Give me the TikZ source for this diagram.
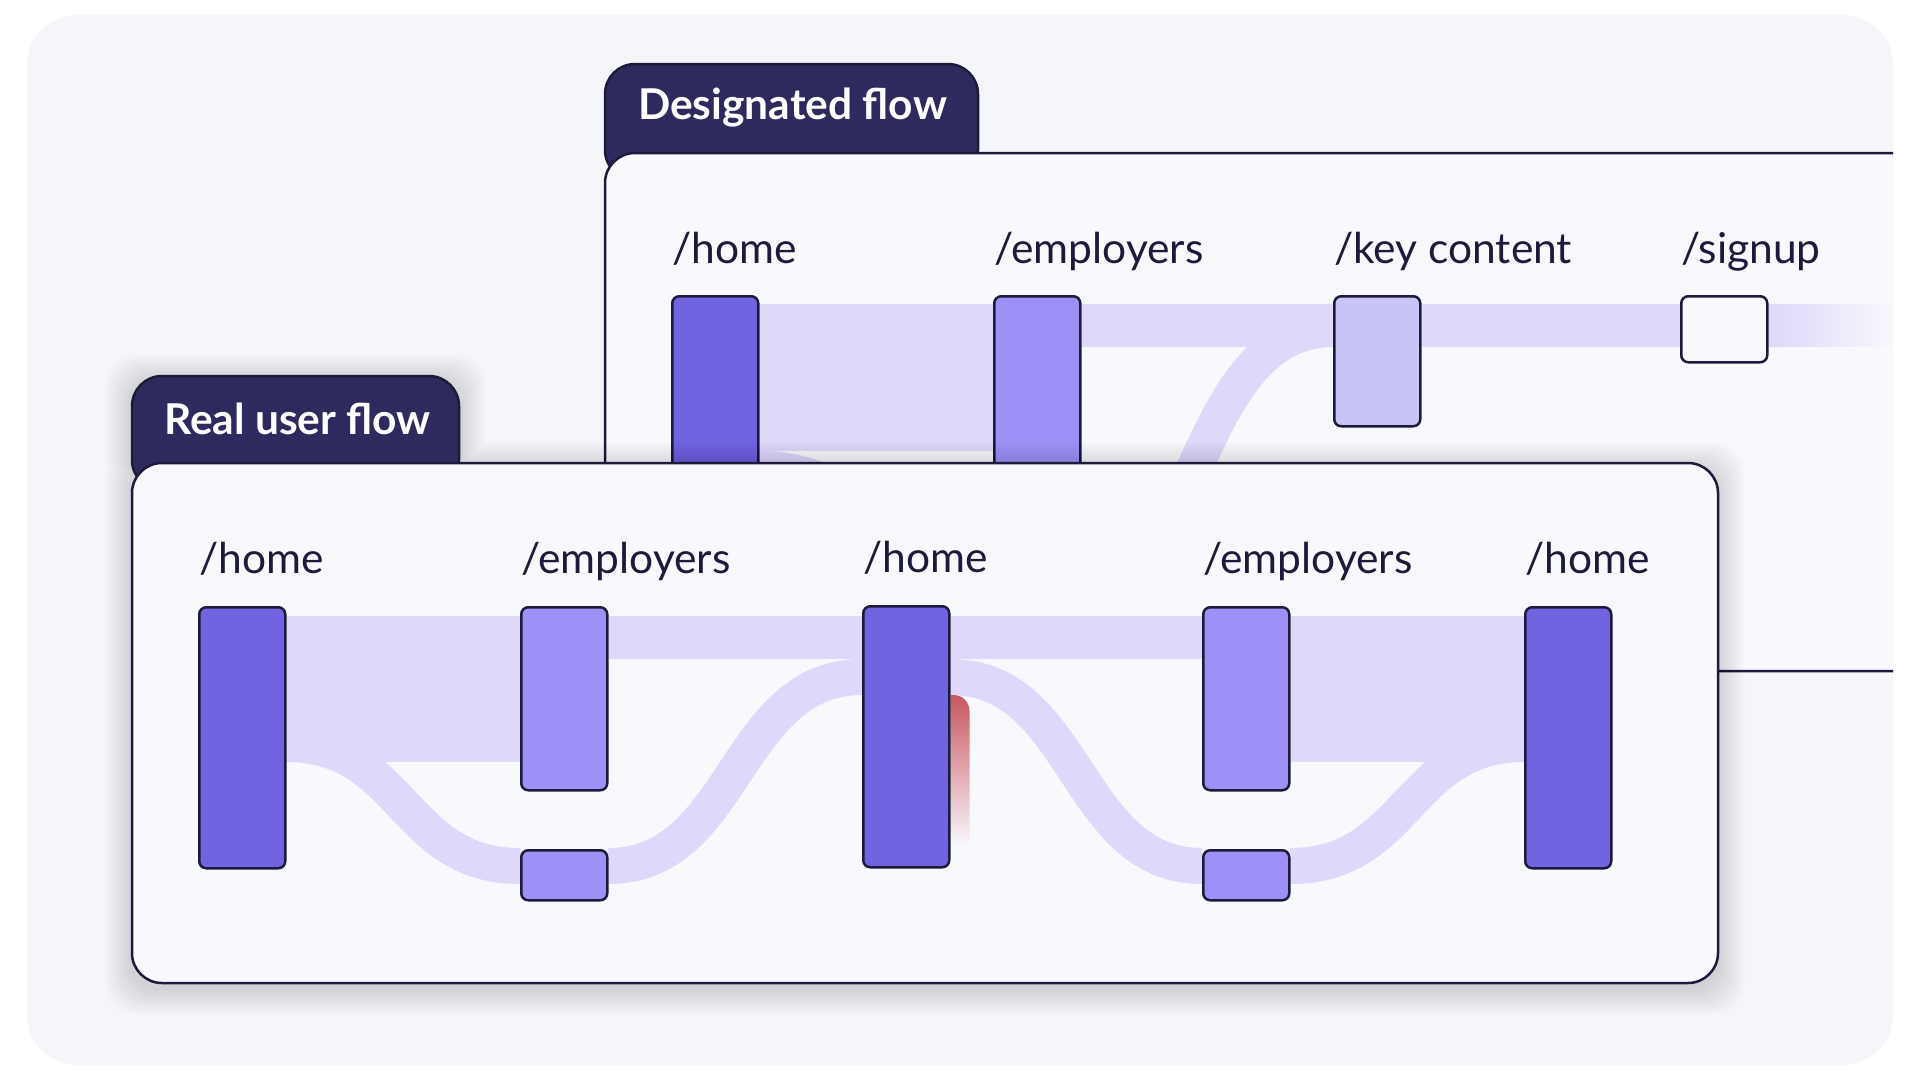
\documentclass[tikz,border=0pt]{standalone}
\usepackage{fontspec}
\setmainfont{Lato}
\usetikzlibrary{calc,fadings}

\definecolor{ink}{HTML}{1D1A3B}
\definecolor{tabc}{HTML}{2E2A5D}
\definecolor{bgc}{HTML}{F5F6FA}
\definecolor{panelc}{HTML}{F8F9FD}
\definecolor{flowc}{HTML}{DFD8FA}
\definecolor{barhi}{HTML}{7164E1}
\definecolor{barmid}{HTML}{9D91F7}
\definecolor{barlow}{HTML}{C8C4F6}
\definecolor{dropred}{HTML}{C9565E}

\pgfdeclarelayer{dback}
\pgfdeclarelayer{dfront}
\pgfdeclarelayer{rback}
\pgfsetlayers{dback,dfront,rback,main}

\tikzfading[name=dropfade, top color=transparent!0, middle color=transparent!30, bottom color=transparent!100]
\tikzfading[name=fadeout, left color=transparent!0, right color=transparent!100]

\tikzset{
  pagebar/.style={draw=ink, line width=2.5pt, rounded corners=7pt, inner sep=0pt, minimum width=86pt, anchor=north west},
  darkbar/.style={pagebar, fill=barhi},
  midbar/.style={pagebar, fill=barmid},
  palebar/.style={pagebar, fill=barlow},
  emptybar/.style={pagebar, fill=panelc},
  flowband/.style={draw=flowc, line width=#1},
  pagelabel/.style={anchor=base west, text=ink, inner sep=0pt, font=\fontsize{42.5}{50}\selectfont},
  tabtitle/.style={anchor=west, text=white, inner sep=0pt, font=\fontsize{42.5}{50}\selectfont\bfseries},
  panel/.style={fill=panelc, draw=ink, line width=2.5pt, rounded corners=30pt},
  tabbox/.style={fill=tabc, draw=ink, line width=2.5pt, rounded corners=30pt},
}

\begin{document}
\begin{tikzpicture}[x=1pt, y=-1pt]
\useasboundingbox (0,0) rectangle (1920,1080);

% designated flow, back panel
\begin{pgfonlayer}{dback}
  \fill[white] (0,0) rectangle (1920,1080);
  \fill[bgc, rounded corners=50pt] (27,15) rectangle (1893,1065);
  \filldraw[tabbox] (605,64) rectangle (978,180);
  \node[tabtitle] (dtitle) at (638,108) {Designated flow};
  \filldraw[panel] (1893,153) -- (605,153) -- (605,671) -- (1893,671);
\end{pgfonlayer}

\begin{pgfonlayer}{dfront}
  \node[darkbar, minimum height=268pt] (dhome) at (671,295) {};
  \node[midbar, minimum height=268pt] (demp) at (993,295) {};
  \node[palebar, minimum height=130pt] (dkey) at (1333,295) {};
  \node[emptybar, minimum height=66pt] (dsign) at (1680,295) {};
  \node[pagelabel] (ldhome) at ([xshift=1pt,yshift=32pt]dhome.north west) {/home};
  \node[pagelabel] (ldemp) at ([xshift=1pt,yshift=32pt]demp.north west) {/employers};
  \node[pagelabel] (ldkey) at ([xshift=1pt,yshift=32pt]dkey.north west) {/key content};
  \node[pagelabel] (ldsign) at ([xshift=1pt,yshift=32pt]dsign.north west) {/signup};
\end{pgfonlayer}

\begin{pgfonlayer}{dback}
  \draw[flowband=147pt] (dhome.east |- 0,377.5) -- (demp.west |- 0,377.5);
  \draw[flowband=43pt] (demp.east |- 0,325.5) -- (dkey.west |- 0,325.5);
  \draw[flowband=43pt] (dkey.east |- 0,325.5) -- (dsign.west |- 0,325.5);
  \fill[flowc, path fading=fadeout] (dsign.east |- 0,304) rectangle (1893,347);
  \coordinate (dlow) at (1050,620);
  \draw[flowband=36pt] (dhome.east |- 0,469) .. controls +(140,0) and +(-140,0) .. (dlow);
  \draw[flowband=36pt] (dlow) .. controls +(150,0) and +(-150,0) .. (dkey.west |- 0,329);
\end{pgfonlayer}

% real user flow, front panel
\begin{pgfonlayer}{rback}
  \foreach \i in {1,...,12}{
    \pgfmathsetmacro{\s}{2.2*\i}
    \fill[black, opacity=0.013, rounded corners=30pt]
      ({132-\s},{376-\s+5}) rectangle ({459+\s},{490})
      ({132-\s},{463-\s+5}) rectangle ({1718+\s},{983+\s+5});
  }
  \filldraw[tabbox] (132,376) rectangle (459,490);
  \node[tabtitle] (rtitle) at (164,419) {Real user flow};
  \filldraw[panel] (132,463) rectangle (1718,983);
\end{pgfonlayer}

\node[darkbar, minimum height=261pt] (home1) at (198,606) {};
\node[midbar, minimum height=183pt] (emp1) at (520,606) {};
\node[midbar, minimum height=50pt] (emp1b) at (520,849) {};
\node[darkbar, minimum height=261pt] (home2) at (862,605) {};
\node[midbar, minimum height=183pt] (emp2) at (1202,606) {};
\node[midbar, minimum height=50pt] (emp2b) at (1202,849) {};
\node[darkbar, minimum height=261pt] (home3) at (1524,606) {};

\node[pagelabel] (lhome1) at ([xshift=1pt,yshift=33pt]home1.north west) {/home};
\node[pagelabel] (lemp1) at ([xshift=1pt,yshift=33pt]emp1.north west) {/employers};
\node[pagelabel] (lhome2) at ([xshift=1pt,yshift=33pt]home2.north west) {/home};
\node[pagelabel] (lemp2) at ([xshift=1pt,yshift=33pt]emp2.north west) {/employers};
\node[pagelabel] (lhome3) at ([xshift=1pt,yshift=33pt]home3.north west) {/home};

\begin{pgfonlayer}{rback}
  \draw[flowband=146pt] (home1.east |- 0,689) -- (emp1.west |- 0,689);
  \draw[flowband=43pt] (emp1.east |- 0,637.5) -- (home2.west |- 0,637.5);
  \draw[flowband=43pt] (home2.east |- 0,637.5) -- (emp2.west |- 0,637.5);
  \draw[flowband=146pt] (emp2.east |- 0,689) -- (home3.west |- 0,689);
  \draw[flowband=36pt] (home1.east |- 0,744) .. controls +(118,0) and +(-118,0) .. (emp1b.west |- 0,866);
  \draw[flowband=36pt] (emp1b.east |- 0,866) .. controls +(128,0) and +(-128,0) .. (home2.west |- 0,677);
  \draw[flowband=36pt] (home2.east |- 0,677) .. controls +(127,0) and +(-127,0) .. (emp2b.west |- 0,866);
  \draw[flowband=36pt] (emp2b.east |- 0,866) .. controls +(118,0) and +(-118,0) .. (home3.west |- 0,744);
  % drop-off at the second /home
  \fill[dropred, path fading=dropfade] (home2.east |- 0,845) -- (home2.east |- 0,695) -- ++(3,0)
    arc[start angle=90, end angle=0, radius=16pt] -- ++(0,134) -- cycle;
\end{pgfonlayer}
\end{tikzpicture}
\end{document}
